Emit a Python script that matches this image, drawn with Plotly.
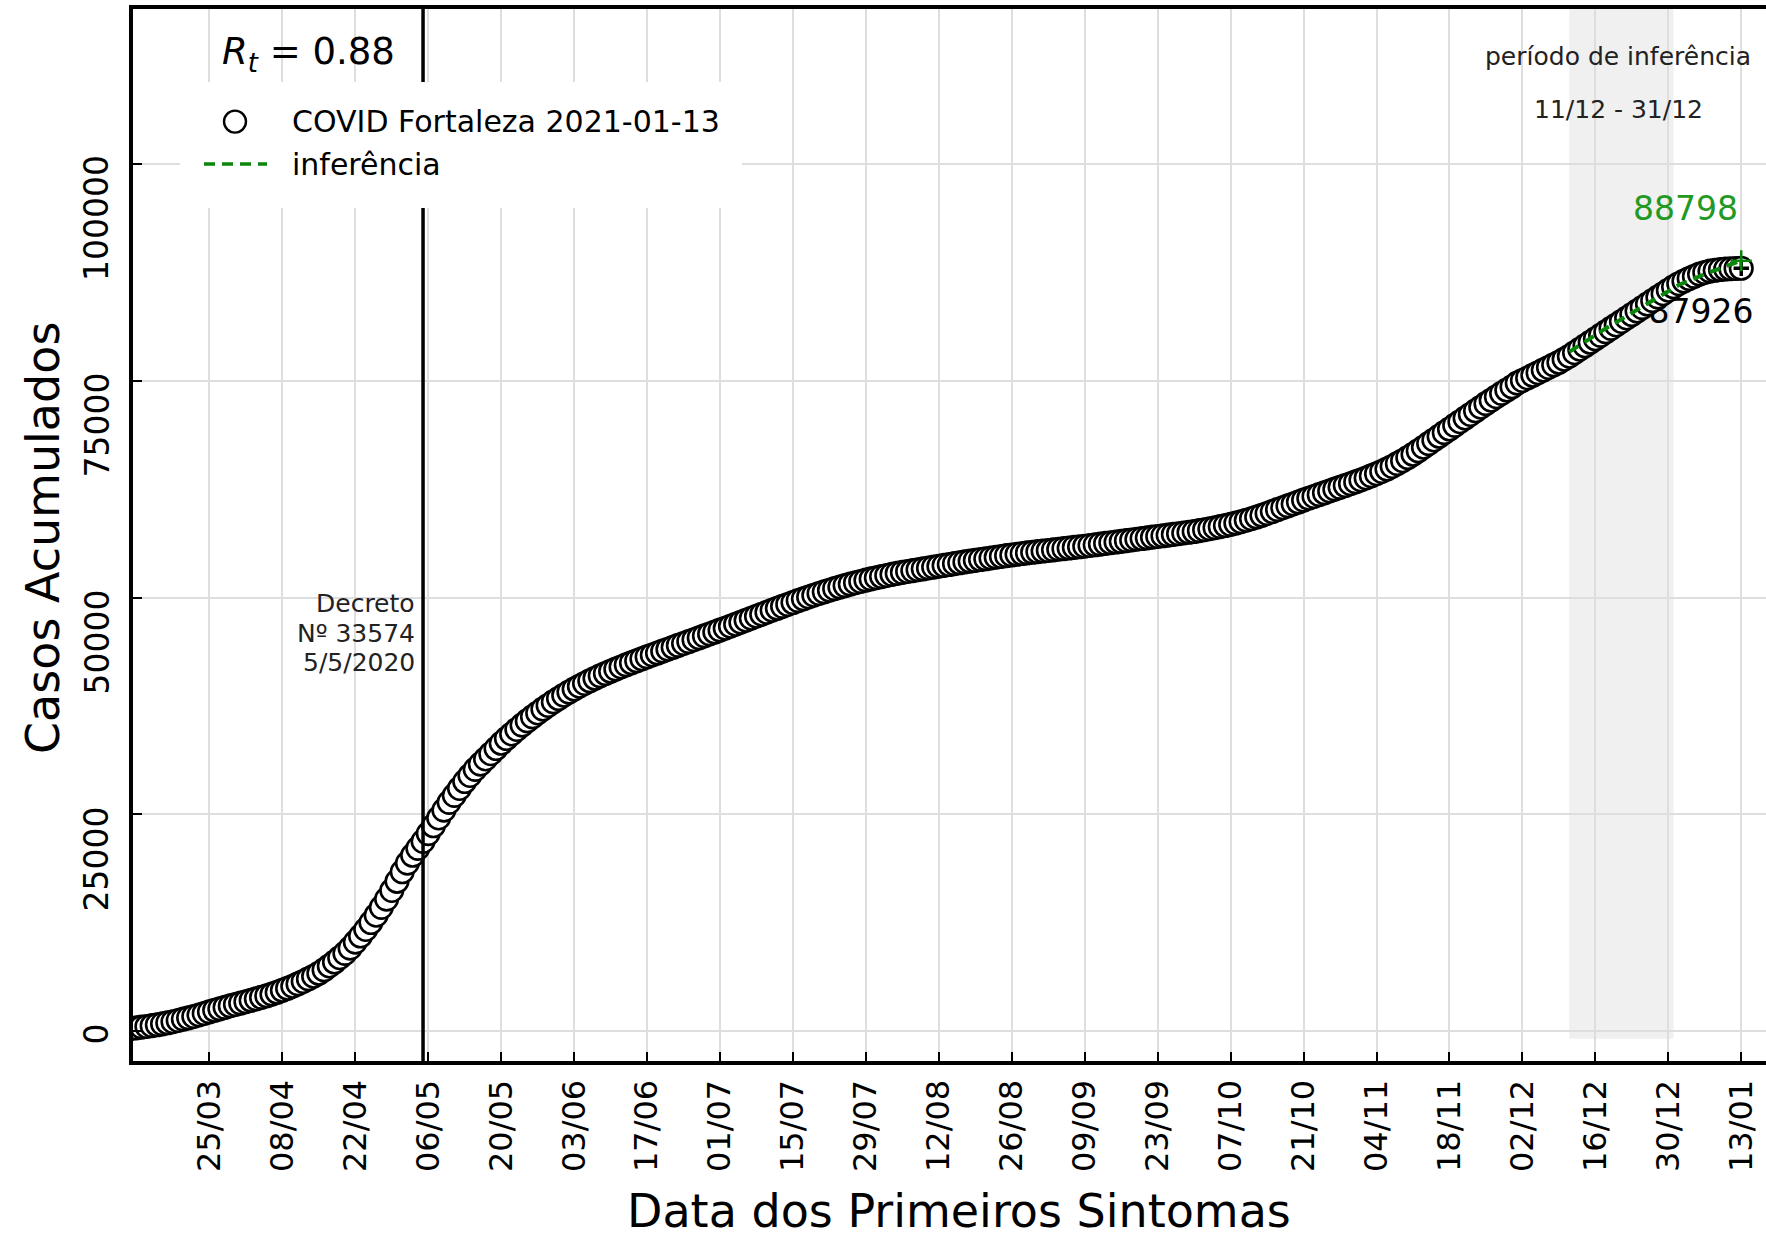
import pandas as pd
import plotly.graph_objects as go

# ---------------- data ----------------
start_date = "2020-03-10"
casos_mar = [350, 420, 500, 580, 670, 770, 880, 1000, 1130, 1270, 1420, 1570, 1730, 1900, 2080,
             2260, 2440, 2610, 2780, 2950, 3110, 3270]
casos_abr = [3430, 3590, 3760, 3930, 4110, 4300, 4520, 4750, 4980, 5220, 5480, 5760, 6060, 6370, 6700,
             7100, 7550, 8000, 8500, 9000, 9600, 10300, 11000, 11750, 12550, 13400, 14300, 15250, 16250, 17300]
casos_mai = [18400, 19400, 20300, 21100, 21900, 22800, 23700, 24600, 25500, 26400, 27200, 28000, 28800,
             29500, 30200, 30800, 31400, 32000, 32600, 33200, 33750, 34280, 34800, 35300, 35780, 36250,
             36700, 37140, 37560, 37970, 38360]
casos_jun = [38740, 39100, 39450, 39780, 40100, 40400, 40690, 40970, 41240, 41500, 41750, 42000, 42240,
             42480, 42710, 42940, 43160, 43380, 43600, 43820, 44040, 44260, 44480, 44700, 44920, 45140,
             45360, 45580, 45800, 46020]
casos_jul = [46240, 46460, 46690, 46920, 47150, 47380, 47610, 47840, 48070, 48300, 48530, 48760, 48980,
             49200, 49420, 49640, 49850, 50060, 50260, 50460, 50650, 50840, 51020, 51200, 51370, 51540,
             51700, 51850, 52000, 52140, 52280]
casos_ago = [52410, 52540, 52660, 52780, 52890, 53000, 53100, 53200, 53300, 53400, 53500, 53600, 53700,
             53800, 53900, 54000, 54100, 54190, 54280, 54370, 54460, 54550, 54640, 54730, 54820, 54900,
             54980, 55060, 55140, 55210, 55280]
casos_set = [55350, 55420, 55490, 55560, 55630, 55700, 55770, 55840, 55910, 55990, 56070, 56150, 56230,
             56310, 56390, 56470, 56550, 56630, 56710, 56790, 56870, 56950, 57030, 57110, 57190, 57270,
             57350, 57430, 57510, 57600]
casos_out = [57700, 57810, 57920, 58040, 58160, 58290, 58420, 58570, 58730, 58900, 59080, 59270, 59470,
             59680, 59900, 60120, 60340, 60560, 60780, 61000, 61220, 61430, 61640, 61850, 62060, 62270,
             62480, 62690, 62900, 63110, 63320]
casos_nov = [63540, 63770, 64010, 64260, 64520, 64800, 65100, 65420, 65760, 66120, 66500, 66900, 67310,
             67730, 68150, 68570, 68990, 69410, 69830, 70250, 70670, 71090, 71510, 71920, 72330, 72730,
             73130, 73520, 73900, 74270]
casos_dez = [74700, 75000, 75300, 75600, 75900, 76200, 76500, 76800, 77100, 77450, 77800, 78200, 78600,
             79000, 79400, 79800, 80200, 80600, 81000, 81400, 81800, 82200, 82600, 83000, 83400, 83800,
             84200, 84600, 85000, 85400, 85800]
casos_jan = [86150, 86450, 86750, 87000, 87250, 87450, 87600, 87700, 87780, 87840, 87880, 87910, 87926]

inf_dates = ["2020-12-11", "2020-12-18", "2020-12-25", "2021-01-01", "2021-01-07", "2021-01-13"]
inf_values = [78300, 81000, 83500, 86000, 87500, 88798]

x_tick_dates = ["2020-03-25", "2020-04-08", "2020-04-22", "2020-05-06", "2020-05-20", "2020-06-03",
                "2020-06-17", "2020-07-01", "2020-07-15", "2020-07-29", "2020-08-12", "2020-08-26",
                "2020-09-09", "2020-09-23", "2020-10-07", "2020-10-21", "2020-11-04", "2020-11-18",
                "2020-12-02", "2020-12-16", "2020-12-30", "2021-01-13"]
x_tick_labels = ["25/03", "08/04", "22/04", "06/05", "20/05", "03/06", "17/06", "01/07", "15/07", "29/07",
                 "12/08", "26/08", "09/09", "23/09", "07/10", "21/10", "04/11", "18/11", "02/12", "16/12",
                 "30/12", "13/01"]
y_ticks = [0, 25000, 50000, 75000, 100000]
y_tick_labels = ["0", "25000", "50000", "75000", "100000"]

decreto_date = "2020-05-05"
inf_period = ["2020-12-11", "2020-12-31"]
rt_value = 0.88
last_value = 87926
inferred_value = 88798

# ---------------- figure ----------------
casos = (casos_mar + casos_abr + casos_mai + casos_jun + casos_jul + casos_ago + casos_set
         + casos_out + casos_nov + casos_dez + casos_jan)
dates = pd.date_range(start_date, periods=len(casos), freq="D")

FONT = "DejaVu Sans"
GREEN = "#0a870a"
GREEN_TXT = "#229922"
W, H = 1766, 1235
L, R, T, B = 133, 0, 9, 174
PW, PH = W - L - R, H - T - B


def px(x):
    return (x - L) / PW


def py(y):
    return (H - B - y) / PH


fig = go.Figure()

# label of last value (drawn beneath the markers)
fig.add_trace(go.Scatter(
    x=["2021-01-05 06:45"], y=[82600], mode="text", text=[str(last_value)],
    textposition="middle center", textfont=dict(family=FONT, size=33, color="black"),
    showlegend=False, hoverinfo="skip"))

fig.add_trace(go.Scatter(
    x=dates, y=casos, mode="markers",
    marker=dict(symbol="circle", size=22.5, color="white", line=dict(color="black", width=2.6)),
    showlegend=False))

fig.add_trace(go.Scatter(
    x=inf_dates, y=inf_values, mode="lines",
    line=dict(color=GREEN, width=4, dash="11px,7px"), showlegend=False))

fig.add_trace(go.Scatter(
    x=[dates[-1]], y=[last_value], mode="markers",
    marker=dict(symbol="cross-thin-open", size=11, color="black", line=dict(color="black", width=3.5)),
    showlegend=False))
fig.add_trace(go.Scatter(
    x=[inf_dates[-1]], y=[inferred_value], mode="markers",
    marker=dict(symbol="cross-thin-open", size=15, color=GREEN, line=dict(color=GREEN, width=2.5)),
    showlegend=False))

shapes = [
    dict(type="rect", xref="x", yref="y", x0=inf_period[0], x1=inf_period[1], y0=-850, y1=117800,
         fillcolor="#f0f0f0", line=dict(width=0), layer="below"),
    dict(type="line", xref="x", yref="paper", x0=decreto_date, x1=decreto_date, y0=0, y1=1,
         line=dict(color="black", width=3.5), layer="above"),
    # legend box
    dict(type="rect", xref="paper", yref="paper", x0=px(180), x1=px(742), y0=py(208), y1=py(82),
         fillcolor="white", line=dict(width=0), layer="above"),
    dict(type="circle", xref="paper", yref="paper", xsizemode="pixel", ysizemode="pixel",
         xanchor=px(235), yanchor=py(121.6), x0=-11, x1=11, y0=-11, y1=11,
         fillcolor="white", line=dict(color="black", width=2.4), layer="above"),
    dict(type="line", xref="paper", yref="paper", x0=px(204), x1=px(267), y0=py(164), y1=py(164),
         line=dict(color=GREEN, width=3.5, dash="11px,7px"), layer="above"),
]

ann = []
def text(x, y, s, size, color="black", xanchor="center", yanchor="middle", angle=0, xref="paper", yref="paper",
         yshift=0):
    ann.append(dict(x=x, y=y, xref=xref, yref=yref, text=s, showarrow=False, xanchor=xanchor,
                    yanchor=yanchor, textangle=angle, yshift=yshift,
                    font=dict(family=FONT, size=size, color=color)))

# y tick labels
for v, lab in zip(y_ticks, y_tick_labels):
    text(px(118), v, lab, 33, xanchor="right", yanchor="top", angle=-90, yref="y", yshift=10)

text(px(959), py(1211), "Data dos Primeiros Sintomas", 46)
text(px(43), py(538), "Casos Acumulados", 46, angle=-90)
text(px(219.6), py(54), "<i>R</i><sub><i>t</i></sub> = %.2f" % rt_value, 37, xanchor="left")
text(px(289.5), py(121.6), "COVID Fortaleza 2021-01-13", 30, xanchor="left")
text(px(289.5), py(164.4), "inferência", 30, xanchor="left")
text(px(1618), py(57), "período de inferência", 25, color="#222222")
text(px(1618), py(109), "11/12 - 31/12", 25, color="#222222")
text(px(1740), py(208), str(inferred_value), 33, color=GREEN_TXT, xanchor="right")
text(px(417), py(604), "Decreto", 25, color="#222222", xanchor="right")
text(px(417), py(633), "Nº 33574", 25, color="#222222", xanchor="right")
text(px(417), py(663), "5/5/2020", 25, color="#222222", xanchor="right")

fig.update_layout(
    width=W, height=H, margin=dict(l=L, r=R, t=T, b=B, pad=0),
    paper_bgcolor="white", plot_bgcolor="white",
    font=dict(family=FONT, color="black"),
    shapes=shapes, annotations=ann, showlegend=False,
    xaxis=dict(type="date", range=["2020-03-10 08:00", "2021-01-17 18:00"],
               tickmode="array", tickvals=x_tick_dates, ticktext=x_tick_labels,
               tickangle=-90, tickfont=dict(family=FONT, size=32, color="black"),
               ticks="inside", ticklen=9, tickwidth=2, tickcolor="black",
               showline=True, linewidth=4, linecolor="black", mirror=True,
               showgrid=True, gridcolor="#dedede", gridwidth=2, zeroline=False,
               ticklabelstandoff=2),
    yaxis=dict(range=[-3400, 117800], tickmode="array", tickvals=y_ticks, showticklabels=False,
               ticks="inside", ticklen=9, tickwidth=2, tickcolor="black",
               showline=True, linewidth=4, linecolor="black", mirror=False,
               showgrid=True, gridcolor="#dedede", gridwidth=2, zeroline=False),
)

fig.write_html("out.html", post_script="document.body.style.margin='0';",
               config={"displayModeBar": False})
